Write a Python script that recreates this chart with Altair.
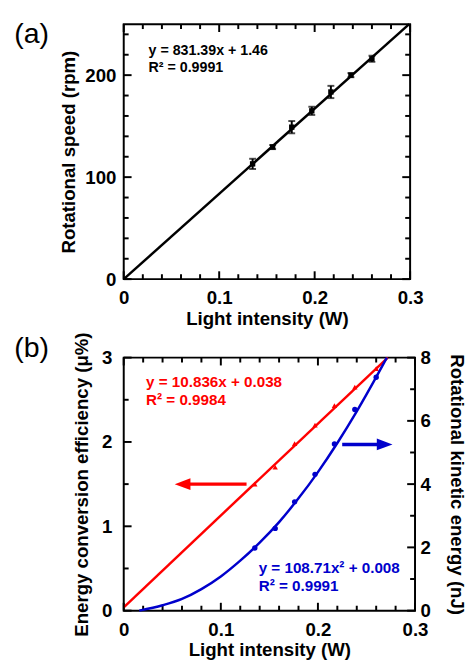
import altair as alt
import pandas as pd

FONT = "Liberation Sans"
RED = "#ff0000"
BLUE = "#0000cc"

# ---------------- Panel (a) data ----------------
a_x = [0.135, 0.156, 0.176, 0.197, 0.217, 0.238, 0.260]
a_speed = [113, 129.5, 149, 165, 183.5, 200, 216]
a_err = [5, 2, 6, 4, 6, 2, 3]
a_fit_x = [0.0, 0.299]
a_fit_y = [0.0, 250.0]
a_eq = ["y = 831.39x + 1.46", "R² = 0.9991"]
a_eq_x = [0.026, 0.026]
a_eq_y = [224, 207]

# ---------------- Panel (b) data ----------------
b_x = [0.135, 0.156, 0.176, 0.197, 0.217, 0.238, 0.260]
b_eff = [1.50, 1.70, 1.98, 2.20, 2.43, 2.65, 2.87]
b_energy = [1.98, 2.60, 3.44, 4.31, 5.27, 6.36, 7.38]
b_eff_fit_x = [0.0, 0.272]
b_eff_fit_y = [0.04, 3.0]
b_en_fit_x = [0.016, 0.04, 0.06, 0.08, 0.10, 0.12, 0.14, 0.16, 0.18, 0.20, 0.22, 0.24, 0.26, 0.271]
b_en_fit_y = [0.0, 0.17, 0.37, 0.68, 1.08, 1.58, 2.15, 2.80, 3.55, 4.38, 5.30, 6.30, 7.38, 8.0]
b_red_eq = ["y = 10.836x + 0.038", "R² = 0.9984"]
b_red_eq_x = [0.023, 0.023]
b_red_eq_y = [2.71, 2.50]
b_blue_eq = ["y = 108.71x² + 0.008", "R² = 0.9991"]
b_blue_eq_x = [0.139, 0.139]
b_blue_eq_y = [0.50, 0.29]
# arrows (left-axis coordinates): start of shaft, head centre, y
red_arrow = {"x1": 0.1265, "x2": 0.0606, "y": 1.50}
blue_arrow = {"x1": 0.225, "x2": 0.2687, "y": 1.97}

# ---------------- ticks ----------------
x_major = [0.0, 0.1, 0.2, 0.3]
x_minor = [0.02, 0.04, 0.06, 0.08, 0.12, 0.14, 0.16, 0.18, 0.22, 0.24, 0.26, 0.28]
a_y_major = [0, 100, 200]
a_y_minor = [20, 40, 60, 80, 120, 140, 160, 180, 220, 240]
b_l_major = [0, 1, 2, 3]
b_l_minor = [0.5, 1.5, 2.5]
b_r_major = [0, 2, 4, 6, 8]
b_r_minor = [1, 3, 5, 7]

MAJ, MIN = 8, 5

WA, HA = 292, 260
WB, HB = 297, 258

xs = alt.Scale(domain=[0, 0.3], nice=False, zero=False)
ya = alt.Scale(domain=[0, 250], nice=False)
ybl = alt.Scale(domain=[0, 3], nice=False)
ybr = alt.Scale(domain=[0, 8], nice=False)

COMMON = dict(ticks=False, tickSize=0, domain=False, grid=False, labelFontSize=19, labelColor="black",
              labelFontWeight="bold", titleFontSize=19, titleFontWeight="bold", titleColor="black")

AX_X = alt.Axis(values=x_major, format=".1~f", labelPadding=10, labelFlush=False,
                title="Light intensity (W)", titlePadding=2, orient="bottom", **COMMON)
AX_A_Y = alt.Axis(values=a_y_major, labelPadding=8, title="Rotational speed (rpm)", titlePadding=6,
                  orient="left", **COMMON)
AX_B_L = alt.Axis(values=b_l_major, labelPadding=12, title="Energy conversion efficiency (μ%)",
                  titlePadding=10, orient="left", **COMMON)
AX_B_R = alt.Axis(values=b_r_major, labelPadding=5, title="Rotational kinetic energy (nJ)",
                  titlePadding=17, orient="right", **COMMON)


def X(field):
    return alt.X(field, scale=xs, axis=AX_X)


def xticks(values, H, length):
    df = pd.DataFrame({"v": values})
    base = alt.Chart(df).mark_rule(color="black", strokeWidth=2)
    bottom = base.encode(x=X("v:Q"), y=alt.value(H), y2=alt.value(H - length))
    top = base.encode(x=X("v:Q"), y=alt.value(0), y2=alt.value(length))
    return [bottom, top]


def yticks(values, scale, axis, W, length, sides=("left", "right")):
    df = pd.DataFrame({"v": values})
    base = alt.Chart(df).mark_rule(color="black", strokeWidth=2)
    out = []
    if "left" in sides:
        out.append(base.encode(y=alt.Y("v:Q", scale=scale, axis=axis), x=alt.value(0), x2=alt.value(length)))
    if "right" in sides:
        out.append(base.encode(y=alt.Y("v:Q", scale=scale, axis=axis), x=alt.value(W), x2=alt.value(W - length)))
    return out


# ---------------- Panel (a) ----------------
def YA(field):
    return alt.Y(field, scale=ya, axis=AX_A_Y)


df_afit = pd.DataFrame({"x": a_fit_x, "y": a_fit_y})
df_a = pd.DataFrame({"x": a_x, "y": a_speed, "e": a_err})
df_a["lo"] = df_a["y"] - df_a["e"]
df_a["hi"] = df_a["y"] + df_a["e"]

a_line = alt.Chart(df_afit).mark_line(color="black", strokeWidth=2.5).encode(x=X("x:Q"), y=YA("y:Q"))
a_bars = alt.Chart(df_a).mark_rule(color="black", strokeWidth=2).encode(x=X("x:Q"), y=YA("lo:Q"), y2="hi:Q")
a_cap_lo = alt.Chart(df_a).mark_tick(color="black", thickness=2, size=7, orient="horizontal").encode(
    x=X("x:Q"), y=YA("lo:Q"))
a_cap_hi = alt.Chart(df_a).mark_tick(color="black", thickness=2, size=7, orient="horizontal").encode(
    x=X("x:Q"), y=YA("hi:Q"))
a_pts = alt.Chart(df_a).mark_point(shape="square", filled=True, color="black", size=30, opacity=1).encode(
    x=X("x:Q"), y=YA("y:Q"))
a_text = alt.Chart(pd.DataFrame({"x": a_eq_x, "y": a_eq_y, "t": a_eq})).mark_text(
    align="left", baseline="middle", fontSize=14.5, fontWeight="bold", color="black").encode(
    x=X("x:Q"), y=YA("y:Q"), text="t:N")
a_label = alt.Chart(pd.DataFrame({"t": ["(a)"]})).mark_text(
    align="center", baseline="middle", fontSize=29, color="black").encode(
    text="t:N", x=alt.value(-94), y=alt.value(10))

a_layers = [a_line, a_bars, a_cap_lo, a_cap_hi, a_pts, a_text, a_label]
a_layers += xticks(x_major, HA, MAJ) + xticks(x_minor, HA, MIN)
a_layers += yticks(a_y_major, ya, AX_A_Y, WA, MAJ) + yticks(a_y_minor, ya, AX_A_Y, WA, MIN)
panel_a = alt.layer(*a_layers).properties(width=WA, height=HA)


# ---------------- Panel (b) ----------------
def YL(field):
    return alt.Y(field, scale=ybl, axis=AX_B_L)


def YR(field):
    return alt.Y(field, scale=ybr, axis=AX_B_R)


df_bfit = pd.DataFrame({"x": b_eff_fit_x, "y": b_eff_fit_y})
df_b = pd.DataFrame({"x": b_x, "eff": b_eff, "en": b_energy})
df_enfit = pd.DataFrame({"x": b_en_fit_x, "y": b_en_fit_y})

red_line = alt.Chart(df_bfit).mark_line(color=RED, strokeWidth=2.5).encode(x=X("x:Q"), y=YL("y:Q"))
red_pts = alt.Chart(df_b).mark_point(shape="triangle-up", filled=True, color=RED, size=30, opacity=1).encode(
    x=X("x:Q"), y=YL("eff:Q"))
red_text = alt.Chart(pd.DataFrame({"x": b_red_eq_x, "y": b_red_eq_y, "t": b_red_eq})).mark_text(
    align="left", baseline="middle", fontSize=15.5, fontWeight="bold", color=RED).encode(
    x=X("x:Q"), y=YL("y:Q"), text="t:N")
blue_text = alt.Chart(pd.DataFrame({"x": b_blue_eq_x, "y": b_blue_eq_y, "t": b_blue_eq})).mark_text(
    align="left", baseline="middle", fontSize=15.5, fontWeight="bold", color=BLUE).encode(
    x=X("x:Q"), y=YL("y:Q"), text="t:N")

df_arrows = pd.DataFrame({
    "x1": [red_arrow["x1"], blue_arrow["x1"]],
    "x2": [red_arrow["x2"], blue_arrow["x2"]],
    "y": [red_arrow["y"], blue_arrow["y"]],
    "c": ["red", "blue"],
})
arrow_colors = alt.Scale(domain=["red", "blue"], range=[RED, BLUE])
arrow_shaft = alt.Chart(df_arrows).mark_rule(strokeWidth=3.5).encode(
    x=X("x1:Q"), x2="x2:Q", y=YL("y:Q"),
    color=alt.Color("c:N", scale=arrow_colors, legend=None))
head_red = alt.Chart(df_arrows.iloc[[0]]).mark_point(
    shape="M-1,0L1,-0.75L1,0.75Z", filled=True, size=256, color=RED, opacity=1, strokeWidth=0).encode(
    x=X("x2:Q"), y=YL("y:Q"))
head_blue = alt.Chart(df_arrows.iloc[[1]]).mark_point(
    shape="M1,0L-1,-0.75L-1,0.75Z", filled=True, size=256, color=BLUE, opacity=1, strokeWidth=0).encode(
    x=X("x2:Q"), y=YL("y:Q"))
b_label = alt.Chart(pd.DataFrame({"t": ["(b)"]})).mark_text(
    align="center", baseline="middle", fontSize=29, color="black").encode(
    text="t:N", x=alt.value(-94), y=alt.value(-10))

left_layers = [red_line, red_pts, red_text, blue_text, arrow_shaft, head_red, head_blue, b_label]
left_layers += xticks(x_major, HB, MAJ) + xticks(x_minor, HB, MIN)
left_layers += yticks(b_l_major, ybl, AX_B_L, WB, MAJ, ("left",)) + yticks(b_l_minor, ybl, AX_B_L, WB, MIN, ("left",))
left_group = alt.layer(*left_layers)

blue_line = alt.Chart(df_enfit).mark_line(color=BLUE, strokeWidth=2.5, interpolate="monotone").encode(
    x=X("x:Q"), y=YR("y:Q"))
blue_pts = alt.Chart(df_b).mark_point(shape="circle", filled=True, color=BLUE, size=30, opacity=1).encode(
    x=X("x:Q"), y=YR("en:Q"))
right_layers = [blue_line, blue_pts]
right_layers += yticks(b_r_major, ybr, AX_B_R, WB, MAJ, ("right",)) + yticks(b_r_minor, ybr, AX_B_R, WB, MIN, ("right",))
right_group = alt.layer(*right_layers)

panel_b = alt.layer(left_group, right_group).resolve_scale(y="independent").properties(width=WB, height=HB)

chart = alt.vconcat(panel_a, panel_b, spacing=1).properties(
    padding={"left": 5, "top": 4, "right": 0, "bottom": 0}
).configure(font=FONT).configure_view(stroke="black", strokeWidth=2).configure_axis(
    labelFont=FONT, titleFont=FONT)

chart.save("out.html", embed_options={"renderer": "svg", "actions": False})
